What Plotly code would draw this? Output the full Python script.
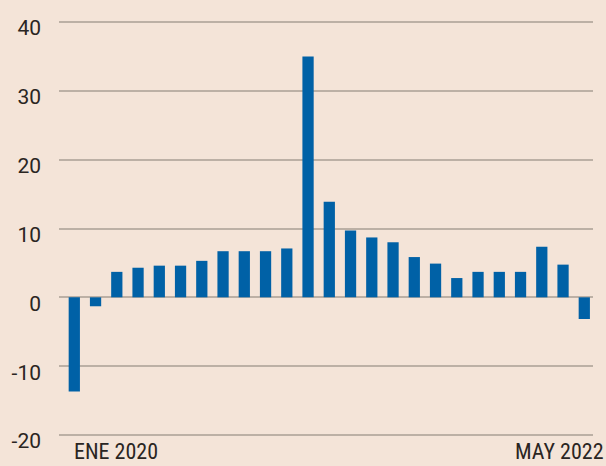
import plotly.graph_objects as go

periods = list(range(25))
values = [-13.7, -1.3, 3.7, 4.3, 4.6, 4.6, 5.3, 6.7, 6.7, 6.7, 7.1, 35.0,
          13.9, 9.7, 8.7, 8.0, 5.85, 4.9, 2.8, 3.7, 3.7, 3.7, 7.35, 4.75, -3.15]
y_ticks = [-20, -10, 0, 10, 20, 30, 40]
y_labels = ["-20", "-10", "0", "10", "20", "30", "40"]
start_label = "ENE 2020"
end_label = "MAY 2022"

BG = "#f4e4d8"
BAR = "#0061a6"
GRID = "#bcb0a5"
TXT = "#2a2522"
NARROW = "Liberation Sans Narrow, Roboto Condensed, Roboto, sans-serif"

fig = go.Figure(go.Bar(x=periods, y=values, width=0.53, marker=dict(color=BAR, line=dict(width=0))))

fig.update_layout(
    width=606, height=466,
    paper_bgcolor=BG, plot_bgcolor=BG,
    margin=dict(l=54, r=13, t=21, b=30),
    showlegend=False,
    font=dict(family="Roboto, Liberation Sans, sans-serif", color=TXT, size=21),
)
fig.update_xaxes(range=[-0.72, 24.41], showticklabels=False, showgrid=False,
                 zeroline=False, showline=False, ticks="")
fig.update_yaxes(range=[-20.15, 40.15], tickvals=y_ticks, ticktext=y_labels,
                 showgrid=True, gridcolor=GRID, gridwidth=1.5,
                 zeroline=True, zerolinecolor=GRID, zerolinewidth=1.5,
                 showline=False, ticks="", ticklabelstandoff=17, ticklabelshift=6,
                 tickfont=dict(size=21, color=TXT, family="Roboto, sans-serif"))

fig.add_annotation(x=0, y=0, xref="paper", yref="paper", xshift=13, yshift=-30,
                   xanchor="left", yanchor="bottom", text=start_label, showarrow=False,
                   font=dict(size=22, color=TXT, family=NARROW))
fig.add_annotation(x=1, y=0, xref="paper", yref="paper", xshift=13, yshift=-30,
                   xanchor="right", yanchor="bottom", text=end_label, showarrow=False,
                   font=dict(size=22, color=TXT, family=NARROW))

post = ("document.body.style.margin='0';document.body.style.padding='0';"
        "document.body.style.overflow='hidden';document.body.style.background='%s';" % BG)
fig.write_html("out.html", post_script=post, config={"displayModeBar": False})
